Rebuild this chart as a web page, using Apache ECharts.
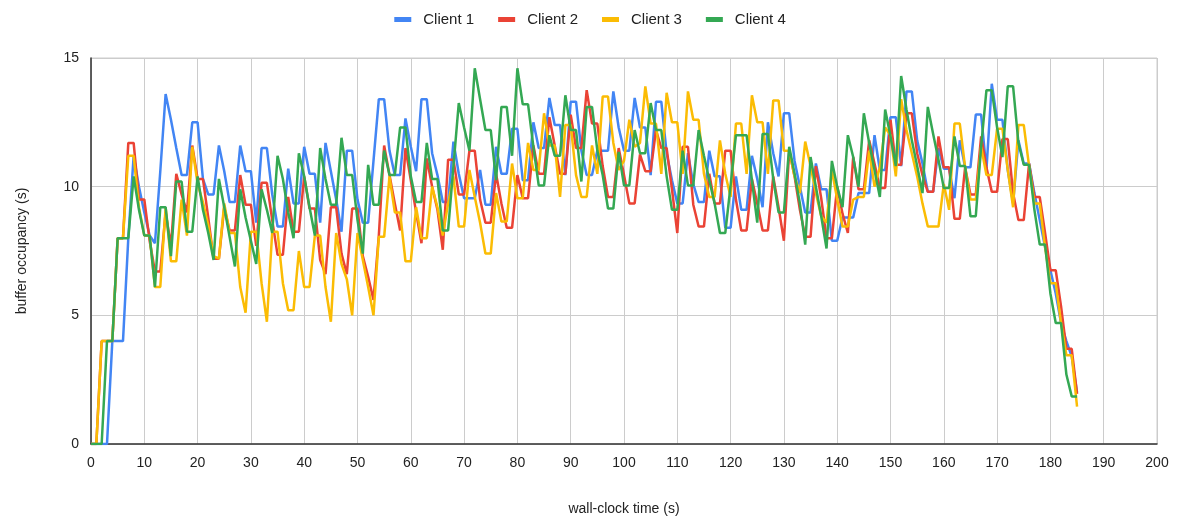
<!DOCTYPE html>
<html>
<head>
<meta charset="utf-8">
<script src="https://cdn.jsdelivr.net/npm/echarts@6/dist/echarts.min.js"></script>
<style>
  html, body { margin: 0; padding: 0; background: #fff; }
  #chart { width: 1180px; height: 521px; }
</style>
</head>
<body>
<div id="chart"></div>
<script>
// one sample per second, starting at t = 0
let client1 = [0,0,0,0,4,4,4,8,11.2,10.0,9.0,8.1,7.8,10.6,13.6,12.6,11.5,10.45,10.45,12.5,12.5,10.3,9.7,9.7,11.6,10.6,9.4,9.4,11.6,10.6,
    10.6,8.6,11.5,11.5,9.7,8.45,8.45,10.7,9.35,9.35,11.55,10.5,10.5,8.6,11.7,10.6,9.5,8.25,11.4,11.4,9.5,8.6,8.6,11.0,13.4,13.4,11.4,10.45,10.45,12.65,
    11.55,10.6,13.4,13.4,11.3,10.45,9.4,9.4,11.75,10.5,9.55,9.55,9.55,10.65,9.3,9.3,11.55,10.5,10.5,12.25,12.25,10.25,10.25,12.5,11.5,11.5,13.45,12.4,12.4,10.45,
    13.3,13.3,11.4,10.45,10.45,11.4,11.4,11.4,13.7,12.3,11.4,11.4,13.45,12.3,12.3,10.45,13.3,13.3,11.3,10.25,9.35,9.35,11.3,10.1,9.4,9.4,11.4,10.4,10.4,8.4,
    8.4,10.4,9.1,9.1,11.2,10.3,9.2,12.5,11.3,10.4,12.85,12.85,11.0,10.0,9.0,9.0,10.9,9.9,9.9,7.9,7.9,8.8,8.8,8.8,9.75,9.75,9.75,12.0,10.65,10.65,
    12.7,12.7,10.8,13.7,13.7,11.8,10.9,9.8,9.8,11.5,10.7,10.7,9.55,11.8,10.75,10.75,12.8,12.8,10.65,14.0,12.6,12.6,10.65,9.35,11.8,10.9,10.9,9.75,8.7,7.65,
    6.75,5.85,4.7,4.0,3.4,2.0];
let client2 = [0,0,4,4,4,8,8,11.7,11.7,9.5,9.5,7.9,6.7,6.7,9.0,7.7,10.5,9.7,9.0,11.6,10.3,10.3,8.8,7.2,7.2,9.2,8.3,8.3,10.45,9.3,
    9.3,7.7,10.15,10.15,8.7,7.35,7.35,9.6,8.25,8.25,10.4,9.15,9.15,7.15,6.6,9.2,9.2,7.4,6.6,9.15,9.15,7.3,6.5,5.6,8.1,11.6,10.45,9.35,8.3,11.5,
    10.25,9.0,7.8,11.1,10.0,9.1,7.55,11.05,11.05,9.7,9.7,11.4,11.4,9.5,8.6,8.6,10.5,9.35,8.4,8.4,10.45,9.55,9.55,11.6,10.5,10.5,12.7,11.6,10.5,10.5,
    12.8,11.5,11.5,13.75,12.45,12.45,10.8,9.6,9.6,11.5,10.45,9.35,9.35,11.25,10.6,10.6,12.2,11.5,11.5,9.9,8.2,11.55,11.55,9.3,8.45,8.45,10.5,9.35,9.35,11.4,
    11.4,9.5,8.3,8.3,10.3,9.35,8.3,8.3,10.4,9.2,7.9,11.4,10.4,9.1,8.05,8.05,10.8,9.55,8.0,8.0,10.0,8.95,8.2,11.15,9.9,9.9,11.8,10.9,9.95,9.95,
    12.6,10.85,10.85,12.85,12.85,11.3,10.45,9.8,9.8,11.95,10.75,10.75,8.75,8.75,10.75,9.7,9.7,11.95,10.75,9.8,9.8,11.85,11.85,9.75,8.7,8.7,10.9,9.6,9.6,8.2,
    6.75,6.75,5.35,3.7,3.7,1.95];
let client3 = [0,0,4,4,4,8,8,11.2,11.2,9.2,8.1,8.1,6.1,6.1,9.2,7.1,7.1,9.5,8.1,11.55,10.1,9.4,8.5,7.3,7.2,9.35,8.2,8.2,6.1,5.1,
    8.25,8.25,6.25,4.75,8.25,8.25,6.25,5.2,5.2,7.5,6.1,6.1,8.1,8.1,6.1,4.75,8.2,7.0,6.4,5.0,8.2,7.15,6.1,5.0,8.05,8.05,10.4,9.0,9.0,7.1,
    7.1,9.2,8.0,8.0,10.0,9.2,8.1,9.35,10.4,8.45,8.45,10.65,9.6,8.6,7.4,7.4,9.75,8.65,8.65,10.9,9.55,9.55,11.7,10.65,10.65,12.85,11.6,11.6,9.6,12.4,
    12.4,10.45,9.6,9.6,11.6,10.5,13.5,13.5,11.7,10.65,11.0,12.6,11.55,11.7,13.9,12.45,12.45,10.5,13.65,12.5,12.5,10.5,13.7,12.6,12.6,10.5,9.6,9.6,11.8,10.5,
    9.6,12.45,12.45,10.5,13.55,12.5,12.5,10.5,13.35,13.35,11.4,11.4,10.4,9.75,11.75,10.8,9.75,8.85,8.6,10.65,9.5,8.45,8.45,9.5,9.6,9.6,11.4,10.0,10.75,12.3,
    12.0,10.4,13.4,12.2,11.3,10.4,9.35,8.45,8.45,8.45,10.1,9.1,12.45,12.45,10.75,9.5,9.5,11.55,10.45,10.45,12.25,12.25,10.65,9.2,12.4,12.4,10.8,9.35,9.35,7.65,
    6.25,6.25,4.7,3.45,3.45,1.45];
let client4 = [0,0,0,4,4,8,8,8,10.4,9.1,8.1,8.1,6.1,9.2,9.2,7.3,10.2,10.2,8.25,8.25,10.4,9.1,8.2,7.15,10.3,9.2,8.05,6.9,9.9,8.8,
    7.9,7.0,9.9,9.1,8.2,11.2,10.3,9.0,8.0,11.3,10.4,9.2,8.1,11.5,10.3,9.3,9.3,11.9,10.45,10.45,8.7,7.4,10.85,9.3,9.3,11.4,10.45,10.45,12.3,12.3,
    10.4,9.4,9.4,11.7,10.3,10.3,8.3,8.3,10.8,13.25,12.3,11.4,14.6,13.4,12.2,12.2,10.25,13.1,13.1,11.2,14.6,13.2,13.2,11.55,10.05,10.05,12.0,11.2,11.2,13.55,
    12.2,12.2,10.2,13.1,13.1,11.4,10.45,9.15,9.15,11.35,10.05,10.05,12.2,11.3,11.3,13.25,12.2,12.2,10.4,9.1,9.1,11.4,10.05,10.05,12.2,11.2,10.25,9.35,8.2,8.2,
    10.05,12.0,12.0,12.0,10.25,8.6,12.05,12.05,10.3,9.0,9.0,11.55,10.5,9.35,7.75,11.15,10.0,8.85,7.6,11.0,10.0,9.2,12.0,11.15,10.0,12.85,11.7,10.65,9.6,13.0,
    11.95,10.8,14.3,13.0,11.8,10.8,9.75,13.1,12.05,11.05,9.95,9.95,11.95,10.8,10.8,8.85,8.85,11.55,13.75,13.75,12.3,11.15,13.9,13.9,11.7,10.85,10.85,9.1,7.75,7.75,
    5.85,4.7,4.7,2.7,1.85,1.85];

let clientNames = ['Client 1', 'Client 2', 'Client 3', 'Client 4'];
let clientColors = ['#4285F4', '#EA4335', '#FBBC04', '#34A853'];
let xTicks = { min: 0, max: 200, step: 10 };
let yTicks = { min: 0, max: 15, step: 5 };

function toPoints(values) {
    return values.map(function (v, i) { return [i, v]; });
}

let chart = echarts.init(document.getElementById('chart'));
let font = 'Arial, "Liberation Sans", sans-serif';

let option = {
    animation: false,
    color: clientColors,
    textStyle: { fontFamily: font },
    legend: {
        top: 7,
        left: 'center',
        itemWidth: 17,
        itemHeight: 5,
        itemGap: 24,
        icon: 'rect',
        textStyle: { fontSize: 15, color: '#222', fontFamily: font, padding: [0, 0, 0, 7] },
        data: clientNames
    },
    grid: {
        left: 91,
        right: 23,
        top: 58,
        bottom: 77,
        show: true,
        borderColor: '#ccc',
        borderWidth: 1
    },
    xAxis: {
        type: 'value',
        min: xTicks.min,
        max: xTicks.max,
        interval: xTicks.step,
        name: 'wall-clock time (s)',
        nameLocation: 'middle',
        nameGap: 58,
        nameTextStyle: { fontSize: 14, color: '#222' },
        axisLine: { lineStyle: { color: '#333', width: 1.5 } },
        axisTick: { show: false },
        axisLabel: { fontSize: 14, color: '#222', margin: 12 },
        splitLine: { show: true, lineStyle: { color: '#ccc', width: 1 } }
    },
    yAxis: {
        type: 'value',
        min: yTicks.min,
        max: yTicks.max,
        interval: yTicks.step,
        name: 'buffer occupancy (s)',
        nameLocation: 'middle',
        nameGap: 62,
        nameTextStyle: { fontSize: 14, color: '#222' },
        axisLine: { show: true, lineStyle: { color: '#333', width: 1.5 } },
        axisTick: { show: false },
        axisLabel: { fontSize: 14, color: '#222', margin: 12 },
        splitLine: { show: true, lineStyle: { color: '#ccc', width: 1 } }
    },
    series: [client1, client2, client3, client4].map(function (vals, i) {
        return {
            name: clientNames[i],
            type: 'line',
            data: toPoints(vals),
            showSymbol: false,
            symbol: 'none',
            lineStyle: { width: 2.5, color: clientColors[i] },
            itemStyle: { color: clientColors[i] }
        };
    })
};
chart.setOption(option);
</script>
</body>
</html>
